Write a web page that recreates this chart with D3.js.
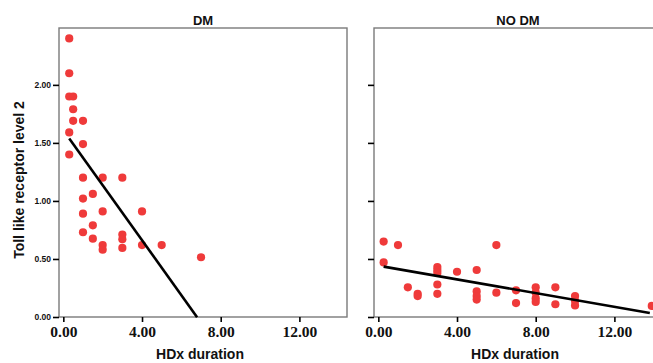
<!doctype html>
<html>
<head>
<meta charset="utf-8">
<script src="https://d3js.org/d3.v7.min.js"></script>
<style>
  body { margin: 0; background: #fff; }
  .frame { fill: none; stroke: #7a7a7a; stroke-width: 1.4; }
  .dot { fill: #ef3a3a; }
  .fit { stroke: #000; stroke-width: 2.6; fill: none; }
  .ylab text { font-family: "Liberation Sans", Arial, sans-serif; font-weight: bold; font-size: 8.5px; fill: #111; }
  .xlab text { font-family: "Liberation Serif", "Times New Roman", serif; font-weight: bold; font-size: 15.5px; fill: #111; }
  .title { font-family: "Liberation Sans", Arial, sans-serif; font-weight: bold; font-size: 13px; fill: #111; }
  .axtitle { font-family: "Liberation Sans", Arial, sans-serif; font-weight: bold; font-size: 14px; fill: #111; }
</style>
</head>
<body>
<svg id="chart" width="653" height="363"></svg>
<script>
// HDx duration (x) and Toll like receptor level 2 (y)
var dmX = [0.3, 0.3, 0.3, 0.5, 0.5, 0.5, 1.0, 0.3, 1.0, 0.3, 1.0, 2.0, 3.0, 1.5, 1.0,
           1.0, 2.0, 4.0, 1.5, 1.0, 1.5, 2.0, 2.0, 3.0, 3.0, 3.0, 4.0, 5.0, 7.0];
var dmY = [2.40, 2.10, 1.90, 1.90, 1.79, 1.69, 1.69, 1.59, 1.49, 1.40, 1.20, 1.20, 1.20, 1.06, 1.02,
           0.89, 0.91, 0.91, 0.79, 0.73, 0.675, 0.62, 0.58, 0.71, 0.67, 0.595, 0.62, 0.62, 0.515];

var noDmX = [0.27, 1.0, 0.27, 6.0, 3.0, 3.0, 3.0, 4.0, 5.0, 1.5, 2.0, 2.0, 3.0, 3.0, 5.0,
             5.0, 5.0, 6.0, 7.0, 7.0, 8.0, 8.0, 8.0, 8.0, 9.0, 9.0, 10.0, 10.0, 10.0, 13.9];
var noDmY = [0.65, 0.62, 0.47, 0.62, 0.43, 0.405, 0.38, 0.39, 0.405, 0.256, 0.20, 0.18, 0.28, 0.20, 0.22,
             0.18, 0.15, 0.21, 0.23, 0.12, 0.256, 0.21, 0.16, 0.13, 0.256, 0.11, 0.18, 0.14, 0.10, 0.095];

// fit lines: [x start, x end, intercept, slope]
var dmFit = [0.3, 6.8, 1.61, -0.237];
var noDmFit = [0.27, 13.8, 0.442, -0.0295];

var xTicks = [0, 4, 8, 12];
var yTicks = [0, 0.5, 1.0, 1.5, 2.0];

var svg = d3.select("#chart");
var plotTop = 28, plotBottom = 317, panelW = 288;

var y = d3.scaleLinear().domain([0, 2.49]).range([plotBottom, plotTop]);

function panel(left, title, xs, ys, fit, showLabels) {
    var x = d3.scaleLinear().domain([-0.22, 14.42]).range([left, left + panelW]);
    var g = svg.append("g");

    g.append("rect").attr("class", "frame")
        .attr("x", left).attr("y", plotTop)
        .attr("width", panelW).attr("height", plotBottom - plotTop);

    var ya = g.append("g").attr("class", "ylab")
        .attr("transform", "translate(" + left + ",0)")
        .call(d3.axisLeft(y).tickValues(yTicks).tickSize(6).tickPadding(2)
            .tickFormat(showLabels ? d3.format(".2f") : ""));
    ya.select(".domain").remove();
    ya.selectAll("line").attr("stroke", "#000").attr("stroke-width", 1.6);

    var xa = g.append("g").attr("class", "xlab")
        .attr("transform", "translate(0," + plotBottom + ")")
        .call(d3.axisBottom(x).tickValues(xTicks).tickSize(5).tickPadding(4)
            .tickFormat(d3.format(".2f")));
    xa.select(".domain").remove();
    xa.selectAll("line").attr("stroke", "#000").attr("stroke-width", 1.6);

    g.selectAll(".dot").data(xs).enter().append("circle")
        .attr("class", "dot")
        .attr("cx", function(d) { return x(d); })
        .attr("cy", function(d, i) { return y(ys[i]); })
        .attr("r", 4.1);

    g.append("line").attr("class", "fit")
        .attr("x1", x(fit[0])).attr("y1", y(fit[2] + fit[3] * fit[0]))
        .attr("x2", x(fit[1])).attr("y2", y(fit[2] + fit[3] * fit[1]));

    g.append("text").attr("class", "title")
        .attr("x", left + panelW / 2).attr("y", 25)
        .attr("text-anchor", "middle").text(title);

    g.append("text").attr("class", "axtitle")
        .attr("x", left + panelW / 2 - 3).attr("y", 359)
        .attr("text-anchor", "middle").text("HDx duration");
}

panel(59, "DM", dmX, dmY, dmFit, true);
panel(374, "NO DM", noDmX, noDmY, noDmFit, false);

svg.append("text").attr("class", "axtitle")
    .attr("transform", "translate(24," + 180 + ") rotate(-90)")
    .attr("text-anchor", "middle")
    .text("Toll like receptor level 2");
</script>
</body>
</html>
